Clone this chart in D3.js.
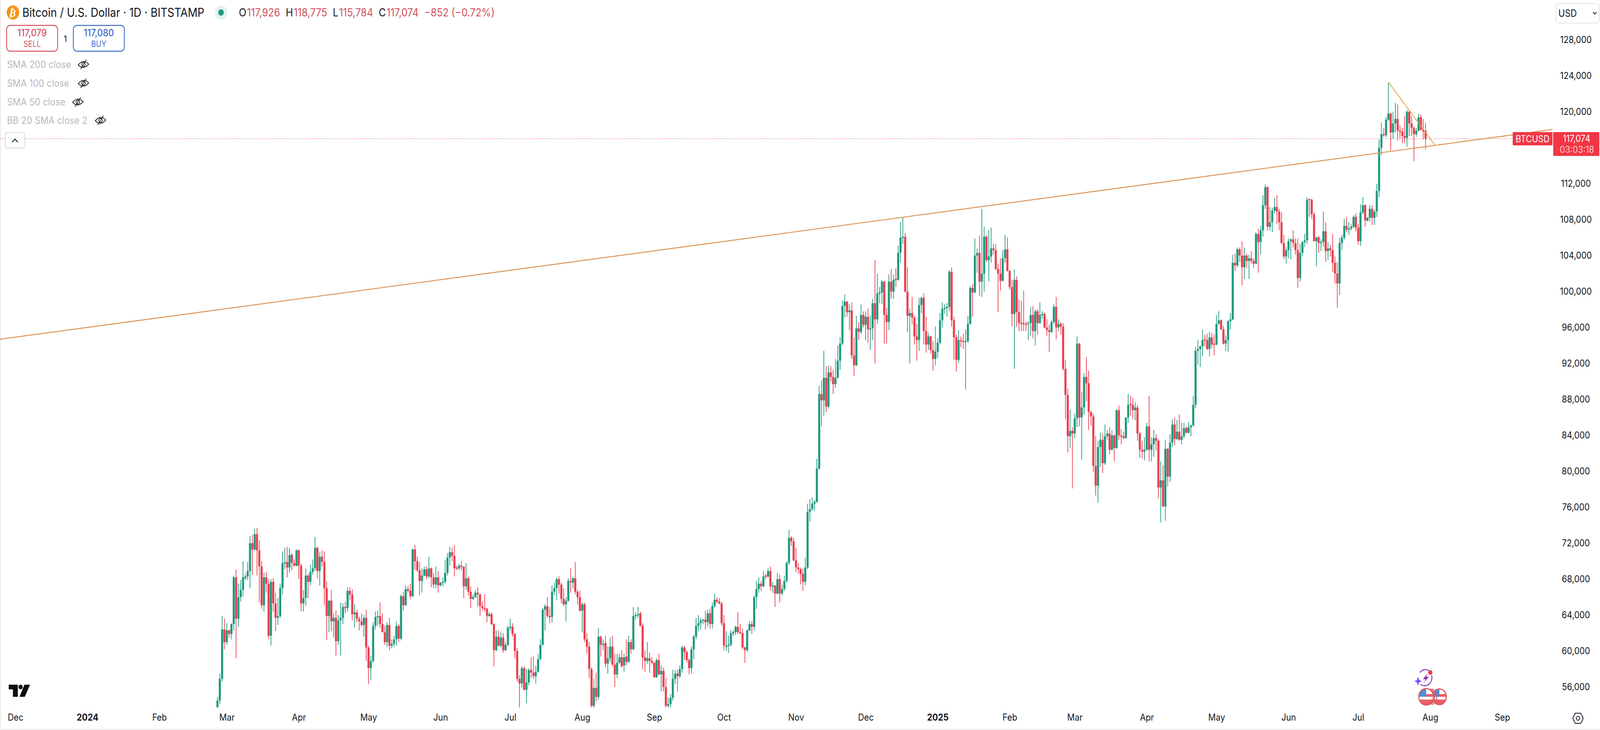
<!DOCTYPE html>
<html>
<head>
<meta charset="utf-8">
<script src="https://cdn.jsdelivr.net/npm/d3@7"></script>
<style>
  html, body { margin: 0; padding: 0; background: #fff; width: 100%; height: 100%; overflow: hidden; }
  svg { display: block; width: 100vw; height: 100vh; font-family: Inter, "Noto Sans", sans-serif; }
  text { fill: #131722; }
</style>
</head>
<body>
<main></main>
<script>
// daily candles, thousands of USD, first candle is 26 Feb 2024
const firstDay = new Date(Date.UTC(2024, 1, 26));

const opens = [
  51.7,54.5,56.9,62.4,61.0,62.3,61.9,63.0,68.2,63.6,
  66.0,66.8,68.1,68.3,68.9,72.0,71.3,73.0,71.2,69.4,
  65.1,68.2,67.5,61.7,67.7,65.3,63.7,63.9,67.0,69.8,
  69.9,69.3,70.7,69.8,69.5,71.2,69.5,65.3,65.9,68.4,
  67.7,68.8,69.2,71.5,68.9,70.5,69.9,67.0,63.9,65.6,
  63.3,63.7,61.1,63.4,63.7,64.9,64.8,66.7,66.3,64.1,
  64.3,63.6,63.3,62.9,63.7,60.4,58.1,58.9,62.8,63.8,
  63.9,63.0,62.1,61.0,62.9,60.6,60.8,61.3,62.8,61.4,
  66.1,65.1,66.9,66.7,66.1,71.3,70.0,69.0,67.8,68.4,
  69.1,68.3,69.2,68.2,67.4,68.2,67.3,67.6,67.7,68.7,
  70.4,71.0,70.6,69.3,69.2,69.5,69.4,67.2,68.1,66.6,
  65.8,66.0,66.5,66.3,65.0,64.8,64.7,63.9,64.1,63.0,
  60.1,61.6,60.6,61.5,60.1,60.7,62.6,62.7,61.9,60.0,
  56.9,56.4,58.1,55.7,56.5,57.9,57.6,57.2,57.7,59.1,
  60.7,64.6,65.0,63.9,63.8,66.6,67.0,68.0,67.4,65.8,
  65.2,65.6,67.8,67.6,68.1,66.6,66.0,64.5,65.2,61.3,
  60.5,58.0,53.9,55.9,54.9,61.6,60.7,60.9,58.6,59.2,
  60.5,58.5,57.4,58.7,59.3,58.4,59.4,58.8,61.0,60.2,
  63.9,64.0,64.2,62.8,59.3,58.9,59.2,58.9,58.7,57.1,
  59.0,57.4,57.8,56.0,53.9,54.1,54.8,56.9,57.5,57.2,
  58.0,60.4,59.9,59.0,58.1,60.2,61.6,62.8,63.1,63.4,
  63.5,63.2,64.2,63.0,65.0,65.7,65.5,65.3,63.1,60.5,
  60.6,60.7,62.0,62.1,62.7,62.1,62.0,60.4,60.1,62.3,
  63.0,62.7,66.0,66.9,67.5,67.2,68.4,68.3,68.9,67.2,
  67.3,66.4,68.0,66.4,66.9,67.8,69.8,72.6,72.2,70.1,
  69.3,69.1,68.6,67.7,69.3,75.5,75.8,76.4,76.6,80.3,
  88.6,87.9,90.4,87.2,91.0,90.5,89.7,90.4,92.3,94.2,
  98.4,98.9,97.7,97.9,92.9,91.8,95.9,95.5,97.4,96.3,
  97.2,95.8,95.9,98.7,96.9,99.8,99.9,101.1,97.4,96.6,
  101.1,100.0,101.4,101.3,104.3,106.0,106.1,100.0,97.3,97.6,
  97.1,95.0,94.6,98.5,99.3,95.6,94.1,95.0,93.5,92.5,
  93.3,94.3,96.8,98.1,98.2,98.3,102.2,96.8,94.9,92.4,
  94.6,94.5,94.4,94.5,96.4,100.4,99.9,104.0,104.3,101.1,
  102.0,106.1,103.5,103.9,104.8,104.6,102.5,102.0,101.2,103.7,
  104.7,102.3,100.5,97.5,101.3,97.7,96.5,96.5,96.4,96.4,
  96.5,97.4,95.6,97.8,96.5,97.4,97.5,96.0,95.7,95.5,
  96.6,98.3,96.0,96.4,96.1,91.4,88.5,83.9,84.5,84.2,
  85.9,94.2,86.0,87.1,90.5,89.8,86.6,86.1,80.6,78.4,
  82.7,83.5,80.9,83.9,84.2,82.4,84.0,82.6,86.8,84.0,
  83.9,83.7,86.0,87.5,87.4,86.8,87.1,84.2,82.4,82.2,
  82.4,85.0,82.4,83.0,83.7,83.4,78.2,79.0,76.1,82.5,
  79.4,83.2,85.2,83.6,84.4,83.5,83.9,84.8,84.3,84.9,
  85.1,87.4,93.4,93.6,93.9,94.7,94.6,93.6,94.9,94.2,
  94.1,96.4,96.8,95.8,94.2,94.6,96.7,96.9,103.2,102.9,
  104.7,104.0,102.7,104.0,103.4,103.7,103.4,103.1,106.4,105.5,
  106.8,109.6,111.6,107.2,107.7,109.0,109.4,108.9,107.7,105.4,
  103.9,104.6,105.6,105.8,105.4,104.6,101.5,104.3,105.5,105.7,
  110.3,110.2,108.6,105.6,106.0,105.4,105.5,106.7,104.5,104.8,
  104.6,103.2,102.0,100.9,105.4,106.0,107.3,106.9,107.0,107.2,
  108.3,107.1,105.6,108.8,109.6,107.9,108.2,109.2,108.2,108.9,
  111.2,116.0,117.5,117.4,119.1,119.8,117.7,118.7,119.2,117.9,
  117.8,117.3,117.1,120.0,118.7,118.2,117.5,117.9,119.4,118.0,117.9
];

const highs = [
  54.9,57.5,63.9,63.6,63.1,62.4,63.1,68.4,69.1,67.5,
  67.9,70.0,68.6,69.9,72.8,72.9,73.6,73.7,72.3,70.0,
  68.7,68.8,68.0,68.0,68.1,66.5,65.9,67.5,71.1,71.5,
  71.6,71.5,70.9,70.2,71.3,71.3,69.7,66.8,69.2,68.6,
  69.6,70.2,72.7,71.6,71.0,71.2,71.1,67.8,65.7,66.8,
  64.2,64.5,64.0,65.4,65.3,65.5,67.1,67.1,66.9,65.2,
  64.6,63.8,64.2,64.0,64.6,60.6,59.5,63.2,64.4,64.5,
  65.4,64.2,62.8,63.2,63.7,61.3,61.7,63.3,63.0,66.3,
  66.6,67.3,67.2,67.5,71.4,71.8,70.5,69.9,69.2,69.4,
  69.4,70.5,69.3,68.7,69.4,68.9,67.7,68.2,70.1,70.9,
  71.6,71.5,71.8,69.5,69.7,70.0,69.4,69.8,68.3,67.2,
  66.3,66.8,67.1,66.4,65.5,66.3,64.8,64.3,64.3,63.1,
  62.3,62.3,62.1,62.0,61.0,62.8,63.6,63.1,62.0,60.3,
  57.3,58.3,58.3,58.0,58.1,59.3,59.4,58.4,59.7,61.3,
  64.8,65.2,66.0,64.9,67.3,67.6,68.2,68.3,67.6,67.0,
  66.0,68.1,69.2,68.2,69.9,66.8,66.7,65.4,65.4,62.0,
  61.0,58.2,56.9,57.6,62.6,61.7,61.3,61.7,60.5,61.5,
  61.7,59.7,59.7,59.7,60.1,59.7,61.3,61.7,61.3,64.9,
  64.3,64.9,64.4,63.1,60.1,61.0,59.8,59.3,58.8,59.2,
  59.7,58.4,58.2,57.0,54.8,55.2,57.9,57.9,57.9,58.4,
  60.6,60.6,60.1,59.2,60.5,61.8,63.7,64.0,63.7,63.6,
  64.5,64.6,64.7,65.4,66.4,66.0,65.9,65.5,64.0,62.2,
  61.7,62.3,62.3,62.8,64.3,63.0,62.5,60.5,62.4,63.3,
  63.3,66.2,67.8,68.2,67.8,68.9,68.6,69.2,69.4,67.7,
  67.3,68.7,68.5,67.4,68.4,70.0,73.5,72.8,72.6,71.5,
  69.8,69.3,69.2,70.4,76.4,76.9,77.1,76.8,81.4,89.5,
  90.1,93.4,91.7,91.8,91.7,91.3,92.5,94.0,94.9,99.0,
  99.7,98.9,98.6,98.8,94.9,97.3,96.6,98.6,97.8,97.8,
  98.1,97.3,99.2,103.5,102.0,100.5,101.3,101.2,98.2,101.9,
  102.5,101.9,102.6,105.1,107.7,108.3,106.5,102.7,98.1,99.4,
  97.3,96.4,99.3,99.4,99.8,97.2,95.4,95.1,94.5,96.1,
  94.8,97.6,98.8,98.6,98.7,102.4,102.7,97.2,95.2,95.7,
  95.0,95.3,95.8,97.3,100.6,100.8,105.9,104.8,106.2,109.2,
  107.2,106.3,106.8,107.1,105.3,105.3,103.1,103.7,104.6,106.3,
  106.0,102.4,101.3,102.5,101.7,99.1,99.0,100.1,96.7,96.7,
  98.3,98.4,98.0,98.0,98.8,97.8,97.7,96.9,96.3,96.8,
  98.6,99.4,96.9,96.6,96.5,92.4,89.2,86.9,84.9,86.4,
  95.0,94.3,88.8,90.9,92.7,91.2,86.7,86.4,83.9,83.4,
  84.3,84.2,85.2,84.6,84.9,84.6,84.1,86.9,87.3,84.7,
  84.4,86.0,88.6,88.4,88.2,87.7,87.4,84.4,83.4,83.8,
  85.4,88.4,83.8,84.6,84.1,83.6,81.1,80.7,83.5,82.6,
  84.1,85.8,86.0,85.7,86.3,85.4,85.4,85.0,85.5,85.2,
  88.4,93.8,94.6,94.0,95.8,95.2,95.3,95.5,95.4,95.2,
  97.4,97.8,96.9,96.2,95.1,96.8,97.6,104.1,104.2,104.9,
  104.9,105.6,104.9,104.2,104.1,104.5,103.7,106.6,107.0,107.3,
  110.7,111.9,111.7,109.4,109.3,110.4,110.7,109.2,108.8,106.3,
  104.9,105.9,105.9,106.8,105.9,105.9,105.3,105.6,106.4,110.5,
  110.3,110.3,108.8,106.1,106.2,105.8,108.9,107.7,105.5,105.2,
  106.4,103.9,103.3,106.0,106.3,108.1,108.3,107.7,107.5,108.5,
  108.7,107.5,109.7,110.5,109.7,108.3,109.6,109.6,109.1,112.0,
  116.9,118.8,118.2,119.4,123.2,119.9,120.0,121.0,120.8,118.5,
  118.2,119.5,120.2,120.1,119.5,118.4,118.2,119.8,119.7,119.2,118.8
];

const lows = [
  50.9,54.1,56.6,60.2,60.7,61.5,61.3,62.3,59.2,62.7,
  65.5,66.1,67.9,67.9,67.0,68.5,71.2,68.4,65.4,64.7,
  64.4,66.5,61.3,60.6,64.4,62.2,62.9,63.7,66.3,69.1,
  68.2,68.7,69.0,69.4,69.4,68.0,64.4,64.4,65.0,65.9,
  67.3,68.5,68.9,68.1,67.3,69.4,65.1,61.2,62.1,62.2,
  61.5,59.5,60.7,59.5,63.0,64.2,64.4,65.7,63.4,62.6,
  63.2,62.3,62.7,61.6,58.9,56.3,56.8,58.7,62.4,62.8,
  62.6,62.1,60.7,60.5,60.1,60.3,60.5,60.6,61.0,61.2,
  64.5,65.0,66.5,65.8,66.0,69.0,68.8,66.2,66.5,68.3,
  68.0,68.1,67.1,67.0,67.0,66.5,67.2,67.2,67.5,68.4,
  69.5,70.0,68.3,69.0,69.0,69.0,65.9,66.8,66.2,64.8,
  65.7,65.9,65.0,63.9,64.5,64.4,63.2,63.8,62.9,58.3,
  60.0,60.5,60.4,59.8,60.0,60.5,62.3,61.6,59.2,56.6,
  53.5,55.9,55.6,54.2,56.2,57.0,56.9,56.4,57.6,59.0,
  60.6,62.3,63.7,63.1,63.2,66.2,65.7,66.4,65.3,65.0,
  63.3,65.5,66.5,67.0,66.3,65.2,64.4,62.1,61.0,59.7,
  57.0,49.0,53.5,54.4,54.6,59.4,60.1,58.2,57.5,58.8,
  58.3,56.0,57.0,58.6,58.2,57.7,58.4,58.7,59.7,60.1,
  63.5,63.7,62.7,58.0,57.7,58.6,57.6,58.5,57.0,57.0,
  57.3,55.5,55.5,53.0,53.5,53.5,54.5,56.3,55.5,57.0,
  57.6,59.0,58.7,57.4,57.5,59.1,61.3,62.2,62.4,63.0,
  62.4,62.7,62.5,62.5,64.8,65.3,65.2,62.8,60.1,60.0,
  59.8,60.5,61.7,61.8,61.9,61.9,60.2,58.7,59.9,62.2,
  61.9,62.3,64.7,66.5,66.7,67.1,68.0,68.2,66.7,66.5,
  64.9,66.3,65.4,66.2,66.7,67.6,69.6,71.7,70.0,68.8,
  68.6,67.4,66.7,67.3,69.1,74.4,75.6,75.6,76.5,80.2,
  85.0,86.2,86.6,87.0,90.0,88.6,89.3,90.3,91.3,94.0,
  97.1,97.2,95.7,92.5,90.6,91.7,94.6,95.3,96.0,94.6,
  94.3,93.5,94.6,92.0,96.4,98.7,98.6,94.2,94.2,95.7,
  99.2,99.2,100.5,101.2,103.2,105.3,99.9,95.5,92.0,96.3,
  94.1,92.3,93.4,97.6,94.1,93.2,93.5,93.1,91.2,91.8,
  92.6,94.1,96.0,97.5,97.2,97.8,96.1,92.4,91.1,92.1,
  93.8,93.6,89.1,94.3,96.3,97.2,99.8,102.1,99.5,99.4,
  100.0,103.3,101.1,103.2,104.1,102.4,97.7,100.1,101.1,103.2,
  102.2,100.2,96.1,91.4,96.1,95.6,95.6,95.6,95.6,94.6,
  95.1,94.8,94.0,95.2,96.4,97.0,95.9,95.1,93.3,95.4,
  96.4,94.7,95.6,95.2,91.2,85.8,82.1,82.6,78.1,83.7,
  84.9,85.0,81.3,86.3,87.8,84.6,85.1,79.9,77.3,76.5,
  80.5,79.8,80.7,83.5,81.9,82.3,81.1,82.5,83.5,83.0,
  83.6,83.6,85.4,86.2,85.8,85.7,83.4,81.5,81.4,81.2,
  82.3,81.1,81.1,81.6,82.3,77.0,74.3,76.0,74.5,78.3,
  78.8,82.7,82.9,83.5,83.4,83.0,83.7,84.2,84.2,83.9,
  85.0,87.0,91.9,91.6,92.8,93.9,93.5,92.8,93.7,92.9,
  94.0,96.3,95.7,94.1,93.4,93.3,95.8,96.8,102.3,102.7,
  103.3,100.7,101.4,102.6,101.4,103.1,102.6,103.0,102.1,104.1,
  106.1,109.2,106.8,106.8,106.6,108.7,107.5,106.8,105.3,103.6,
  103.1,103.7,103.6,104.9,104.1,100.4,101.1,103.9,105.0,105.3,
  108.3,108.1,105.6,102.8,104.3,104.5,105.0,103.3,103.5,103.9,
  102.2,100.9,98.2,99.6,104.6,105.8,106.6,106.3,106.8,107.1,
  106.7,105.2,105.1,108.6,107.2,107.8,107.8,107.4,107.4,108.3,
  110.5,115.2,117.2,117.2,119.0,115.7,117.0,117.7,116.8,117.0,
  116.5,116.5,116.1,117.3,117.3,114.5,117.2,117.8,117.9,116.9,115.8
];

const closes = [
  54.5,56.9,62.4,61.0,62.3,61.9,63.0,68.2,63.6,66.0,
  66.8,68.2,68.3,68.9,72.0,71.3,73.0,71.2,69.4,65.1,
  68.2,67.5,61.7,67.7,65.3,63.7,63.9,67.0,69.8,69.9,
  69.3,70.7,69.8,69.5,71.2,69.5,65.3,65.9,68.4,67.7,
  68.8,69.2,71.5,68.9,70.5,69.9,67.0,63.9,65.6,63.3,
  63.7,61.1,63.4,63.7,64.9,64.8,66.7,66.3,64.1,64.3,
  63.6,63.3,62.9,63.7,60.4,58.1,58.9,62.8,63.8,63.9,
  63.0,62.1,61.0,62.9,60.6,60.8,61.3,62.8,61.4,66.1,
  65.1,66.9,66.7,66.1,71.3,70.0,69.0,67.8,68.4,69.1,
  68.3,69.2,68.2,67.4,68.2,67.3,67.6,67.7,68.7,70.4,
  71.0,70.6,69.2,69.2,69.5,69.4,67.2,68.1,66.6,65.8,
  66.0,66.5,66.3,65.0,64.8,64.7,63.9,64.1,63.0,60.1,
  61.6,60.6,61.5,60.1,60.7,62.6,62.7,61.9,60.0,56.9,
  56.4,58.1,55.7,56.5,57.9,57.6,57.2,57.7,59.1,60.7,
  64.6,65.0,63.9,63.8,66.6,67.0,68.0,67.4,65.8,65.2,
  65.6,67.8,67.7,68.1,66.6,66.0,64.5,65.2,61.3,60.5,
  58.0,53.9,55.9,54.9,61.6,60.7,60.8,58.6,59.2,60.5,
  58.5,57.4,58.7,59.3,58.3,59.3,58.8,61.0,60.2,63.9,
  64.0,64.1,62.8,59.3,58.9,59.2,58.9,58.7,57.1,59.0,
  57.4,57.8,56.0,53.9,54.1,54.8,56.9,57.5,57.2,58.0,
  60.4,59.9,59.0,58.1,60.2,61.6,62.8,63.1,63.4,63.5,
  63.2,64.2,63.0,65.0,65.7,65.5,65.3,63.1,60.6,60.6,
  60.7,62.0,62.1,62.7,62.1,62.0,60.4,60.1,62.3,63.0,
  62.7,66.0,66.9,67.5,67.2,68.3,68.3,68.9,67.2,67.3,
  66.4,68.0,66.4,66.9,67.8,69.8,72.6,72.2,70.1,69.3,
  69.1,68.6,67.7,69.3,75.5,75.8,76.4,76.6,80.3,88.6,
  87.9,90.4,87.2,91.0,90.5,89.7,90.4,92.3,94.2,98.4,
  98.9,97.7,97.9,92.9,91.8,95.9,95.5,97.4,96.3,97.2,
  95.8,95.9,98.7,96.9,99.8,99.9,101.1,97.4,96.6,101.1,
  100.0,101.3,101.3,104.3,106.0,106.1,100.0,97.3,97.6,97.1,
  95.0,94.6,98.5,99.3,95.6,94.1,95.0,93.5,92.5,93.3,
  94.3,96.8,98.1,98.2,98.3,102.2,96.8,94.9,92.4,94.6,
  94.5,94.4,94.5,96.4,100.4,99.9,104.0,104.3,101.1,102.0,
  106.1,103.5,103.9,104.8,104.6,102.5,102.0,101.2,103.7,104.7,
  102.3,100.5,97.5,101.3,97.7,96.5,96.4,96.4,96.3,96.5,
  97.4,95.6,97.8,96.5,97.4,97.5,96.0,95.7,95.5,96.6,
  98.3,96.0,96.4,96.1,91.4,88.5,83.9,84.5,84.2,85.9,
  94.2,86.0,87.1,90.5,89.8,86.6,86.1,80.6,78.4,82.7,
  83.5,80.9,83.9,84.2,82.4,84.0,82.6,86.8,84.0,83.9,
  83.7,86.0,87.4,87.4,86.8,87.1,84.2,82.4,82.2,82.4,
  85.0,82.4,83.0,83.7,83.4,78.2,79.0,76.1,82.5,79.4,
  83.2,85.2,83.6,84.4,83.5,83.9,84.8,84.3,84.9,85.1,
  87.4,93.4,93.6,93.9,94.6,94.6,93.6,94.9,94.1,94.1,
  96.4,96.8,95.8,94.2,94.6,96.7,96.9,103.2,102.9,104.7,
  104.0,102.7,104.0,103.4,103.7,103.4,103.1,106.4,105.5,106.8,
  109.6,111.6,107.2,107.7,109.0,109.4,108.9,107.7,105.4,103.9,
  104.6,105.6,105.8,105.4,104.6,101.5,104.3,105.5,105.7,110.2,
  110.2,108.6,105.6,106.0,105.4,105.5,106.7,104.5,104.8,104.6,
  103.2,102.0,100.9,105.4,106.0,107.3,106.9,107.0,107.2,108.3,
  107.1,105.6,108.8,109.6,107.9,108.2,109.2,108.2,108.9,111.2,
  116.0,117.5,117.4,119.1,119.8,117.7,118.7,119.2,117.9,117.8,
  117.3,117.1,120.0,118.7,118.2,117.5,117.9,119.4,118.0,117.8,117.0
];

// axes
const priceTicks = [128,124,120,112,108,104,100,96,92,88,84,80,76,72,68,64,60,56];
const timeTickDates = ["2023-12-01","2024-01-01","2024-02-01","2024-03-01","2024-04-01","2024-05-01","2024-06-01","2024-07-01","2024-08-01","2024-09-01","2024-10-01","2024-11-01","2024-12-01","2025-01-01","2025-02-01","2025-03-01","2025-04-01","2025-05-01","2025-06-01","2025-07-01","2025-08-01","2025-09-01"];
const timeTickLabels = ["Dec","2024","Feb","Mar","Apr","May","Jun","Jul","Aug","Sep","Oct","Nov","Dec","2025","Feb","Mar","Apr","May","Jun","Jul","Aug","Sep"];

// drawn trend lines, date then price
const longTrendDates = ["2023-11-24","2025-09-23"];
const longTrendPrices = [94.68,118.04];
const shortTrendDates = ["2025-07-14","2025-08-03"];
const shortTrendPrices = [123.3,116.3];
const lastPriceLevel = 117.0;

const legendNames = ["SMA 200 close","SMA 100 close","SMA 50 close","BB 20 SMA close 2"];
const ohlcNames = ["O","H","L","C"];
const ohlcValues = ["117,926","118,775","115,784","117,074"];

const w = 4582;
const h = 1868;
const red = "#ea3f4f";
const green = "#1f9a80";

// the window can come out narrower than asked, so fit the drawing to it
const svg = d3.select("main").append("svg")
  .attr("viewBox", `0 0 ${w} ${h}`)
  .attr("preserveAspectRatio", "none");

const xScale = d3.scaleUtc()
  .domain([new Date("2023-12-01"), new Date("2025-09-01")])
  .range([44, 4302]);
const yScale = d3.scaleLinear().domain([56, 128]).range([1758, 102]);

svg.append("defs").append("clipPath").attr("id", "plot")
  .append("rect").attr("x", 0).attr("y", 0).attr("width", 4446).attr("height", 1810);

// frame edges
svg.append("rect").attr("x", 0).attr("y", 0).attr("width", 3).attr("height", h).attr("fill", "#eeeeee");
svg.append("rect").attr("x", 0).attr("y", 1865).attr("width", w).attr("height", 3).attr("fill", "#eeeeee");

const plot = svg.append("g").attr("clip-path", "url(#plot)");

// dotted last price line sits under the candles
plot.append("line")
  .attr("x1", 0).attr("x2", 4332)
  .attr("y1", yScale(lastPriceLevel)).attr("y2", yScale(lastPriceLevel))
  .attr("stroke", "#c8505c").attr("stroke-width", 1.6).attr("stroke-dasharray", "2 4");

const candles = opens.map((o, i) => ({
  date: d3.utcDay.offset(firstDay, i),
  o: o, h: highs[i], l: lows[i], c: closes[i]
}));
const colorOf = (d) => d.c >= d.o ? green : red;

plot.selectAll("line.wick")
  .data(candles)
  .join("line")
  .attr("class", "wick")
  .attr("x1", (d) => xScale(d.date)).attr("x2", (d) => xScale(d.date))
  .attr("y1", (d) => yScale(d.h)).attr("y2", (d) => yScale(d.l))
  .attr("stroke", colorOf).attr("stroke-width", 2);

plot.selectAll("rect.body")
  .data(candles)
  .join("rect")
  .attr("class", "body")
  .attr("x", (d) => xScale(d.date) - 3)
  .attr("width", 6)
  .attr("y", (d) => yScale(Math.max(d.o, d.c)))
  .attr("height", (d) => Math.max(3, Math.abs(yScale(d.o) - yScale(d.c))))
  .attr("fill", colorOf);

const trendLine = d3.line()
  .x((d) => xScale(new Date(d[0])))
  .y((d) => yScale(d[1]));

plot.append("path")
  .datum(d3.zip(longTrendDates, longTrendPrices))
  .attr("d", trendLine)
  .attr("fill", "none").attr("stroke", "#dc9152").attr("stroke-width", 2.4);

plot.append("path")
  .datum(d3.zip(shortTrendDates, shortTrendPrices))
  .attr("d", trendLine)
  .attr("fill", "none").attr("stroke", "#e3a04a").attr("stroke-width", 2.2);

// price axis
const yAxis = d3.axisRight(yScale)
  .tickValues(priceTicks)
  .tickSize(0)
  .tickFormat((d) => d3.format(",")(d * 1000));

svg.append("g")
  .attr("transform", "translate(4513,0)")
  .call(yAxis)
  .call((g) => g.select(".domain").remove())
  .selectAll("text")
  .attr("x", 0)
  .attr("text-anchor", "middle")
  .style("font-family", "Inter")
  .style("font-size", "24px")
  .style("fill", "#131722");

// time axis
const xAxis = d3.axisBottom(xScale)
  .tickValues(timeTickDates.map((d) => new Date(d)))
  .tickSize(0)
  .tickFormat((d, i) => timeTickLabels[i]);

svg.append("g")
  .attr("transform", "translate(0,1827)")
  .call(xAxis)
  .call((g) => g.select(".domain").remove())
  .selectAll("text")
  .attr("y", 0)
  .attr("dy", "0.71em")
  .style("font-family", "Inter")
  .style("font-size", "24px")
  .style("font-weight", (d, i) => /^\d/.test(timeTickLabels[i]) ? 700 : 400)
  .style("fill", "#131722");

// header
svg.append("circle").attr("cx", 37).attr("cy", 32).attr("r", 18).attr("fill", "#f7931a");
svg.append("text").attr("x", 37).attr("y", 42).attr("text-anchor", "middle")
  .attr("transform", "rotate(12 37 32)")
  .style("font-family", "DejaVu Sans").style("font-size", "27px").style("font-weight", 700)
  .style("fill", "#ffffff").text("\u20BF");

svg.append("text").attr("x", 64).attr("y", 43)
  .style("font-size", "30.8px").text("Bitcoin / U.S. Dollar · 1D · BITSTAMP");

svg.append("circle").attr("cx", 633).attr("cy", 32).attr("r", 18).attr("fill", "#e2f3ef");
svg.append("circle").attr("cx", 633).attr("cy", 32).attr("r", 8).attr("fill", "#1f9a80");

const ohlc = svg.append("text").attr("x", 684).attr("y", 42).style("font-size", "28px");
ohlcNames.forEach((n, i) => {
  ohlc.append("tspan").attr("dx", i ? 16 : 0).text(n);
  ohlc.append("tspan").attr("dx", 2).style("fill", "#d0505c").text(ohlcValues[i]);
});
ohlc.append("tspan").attr("dx", 16).style("fill", "#d0505c").text("\u2212852 (\u22120.72%)");

// sell and buy boxes
const tradeBox = (x, color, price, word) => {
  svg.append("rect").attr("x", x).attr("y", 65).attr("width", 146).attr("height", 66).attr("rx", 10)
    .attr("fill", "#fff").attr("stroke", color).attr("stroke-width", 2.4);
  svg.append("text").attr("x", x + 73).attr("y", 93).attr("text-anchor", "middle")
    .style("font-size", "25px").style("font-weight", 500).style("fill", color).text(price);
  svg.append("text").attr("x", x + 73).attr("y", 120).attr("text-anchor", "middle")
    .style("font-size", "21px").style("fill", color).text(word);
};
tradeBox(19, "#d4505c", "117,079", "SELL");
tradeBox(210, "#3d6bc9", "117,080", "BUY");
svg.append("text").attr("x", 187).attr("y", 107).attr("text-anchor", "middle").style("font-size", "22px").text("1");

// hidden indicators
const legendRowY = [165, 213, 261, 308];
const legendIconX = [239, 239, 223, 288];
legendNames.forEach((name, i) => {
  svg.append("text").attr("x", 20).attr("y", legendRowY[i] + 9)
    .style("font-size", "25.5px").style("fill", "#b7b9bf").text(name);
  const icon = svg.append("g").attr("transform", `translate(${legendIconX[i]},${legendRowY[i]})`)
    .attr("fill", "none").attr("stroke", "#1c1f26").attr("stroke-width", 2);
  icon.append("path").attr("d", "M-15,1 Q0,-15 15,-1 Q0,15 -15,1 Z");
  icon.append("circle").attr("r", 5);
  icon.append("line").attr("x1", -8).attr("y1", 12).attr("x2", 8).attr("y2", -12);
});

// collapse button
svg.append("rect").attr("x", 15).attr("y", 339).attr("width", 56).attr("height", 40).attr("rx", 5)
  .attr("fill", "#fff").attr("stroke", "#d6d8dd").attr("stroke-width", 2);
svg.append("path").attr("d", "M35,364 L43,356 L51,364").attr("fill", "none").attr("stroke", "#131722").attr("stroke-width", 2.4);

// currency selector
svg.append("rect").attr("x", 4456).attr("y", 9).attr("width", 124).attr("height", 50).attr("rx", 8)
  .attr("fill", "#fff").attr("stroke", "#e2e4ea").attr("stroke-width", 2);
svg.append("text").attr("x", 4463).attr("y", 43).style("font-size", "25px").text("USD");
svg.append("path").attr("d", "M4562,31 L4567,36 L4572,31").attr("fill", "none").attr("stroke", "#131722").attr("stroke-width", 2.2);

// last price labels
svg.append("rect").attr("x", 4332).attr("y", 338).attr("width", 114).attr("height", 34).attr("rx", 2).attr("fill", "#f23645");
svg.append("text").attr("x", 4389).attr("y", 364).attr("text-anchor", "middle")
  .style("font-size", "24px").style("fill", "#ffffff").text("BTCUSD");
svg.append("rect").attr("x", 4448).attr("y", 338).attr("width", 132).attr("height", 61).attr("rx", 2).attr("fill", "#f23645");
svg.append("text").attr("x", 4515).attr("y", 363).attr("text-anchor", "middle")
  .style("font-size", "24px").style("fill", "#ffffff").text("117,074");
svg.append("text").attr("x", 4516).attr("y", 391).attr("text-anchor", "middle")
  .style("font-size", "24px").style("fill", "#ffc9ce").text("03:03:18");

// logo
const logo = svg.append("g").attr("fill", "#0d0d0d");
logo.append("path").attr("d", "M25,1752 H51 V1783 H37 V1764 H25 Z");
logo.append("circle").attr("cx", 59).attr("cy", 1758).attr("r", 6);
logo.append("path").attr("d", "M70,1752 H86 L71,1783 H56 Z");

// settings icon
svg.append("path").attr("d", "M4511,1825 H4527 L4534,1838 L4527,1851 H4511 L4504,1838 Z")
  .attr("fill", "none").attr("stroke", "#131722").attr("stroke-width", 2.2);
svg.append("circle").attr("cx", 4519).attr("cy", 1838).attr("r", 5)
  .attr("fill", "none").attr("stroke", "#131722").attr("stroke-width", 2.2);

// event icons
svg.append("path").attr("d", "M4066,1721 A21,21 0 0 1 4092,1716 M4100,1728 A21,21 0 0 1 4068,1751")
  .attr("fill", "none").attr("stroke", "#8a3db5").attr("stroke-width", 2.6);
svg.append("path").attr("d", "M4088,1723 L4075,1738 H4083 L4077,1747 L4092,1732 H4084 Z").attr("fill", "#8e2fb0");
svg.append("path").attr("d", "M4061,1731 L4064,1740 L4072,1743 L4064,1746 L4061,1755 L4058,1746 L4050,1743 L4058,1740 Z").attr("fill", "#7c4dff");
svg.append("circle").attr("cx", 4096).attr("cy", 1721).attr("r", 6).attr("fill", "#f23645");

const coin = (id, cx, r) => {
  const clip = svg.select("defs").append("clipPath").attr("id", id);
  clip.append("circle").attr("cx", cx).attr("cy", 1783).attr("r", r);
  const g = svg.append("g");
  g.append("circle").attr("cx", cx).attr("cy", 1783).attr("r", r).attr("fill", "#fff");
  const inner = g.append("g").attr("clip-path", `url(#${id})`);
  inner.append("rect").attr("x", cx - r).attr("y", 1776).attr("width", 2 * r).attr("height", 7).attr("fill", "#e86268");
  inner.append("rect").attr("x", cx - r).attr("y", 1790).attr("width", 2 * r).attr("height", 14).attr("fill", "#e86268");
  inner.append("rect").attr("x", cx - r).attr("y", 1762).attr("width", r).attr("height", 21).attr("fill", "#4a90d9");
  g.append("circle").attr("cx", cx).attr("cy", 1783).attr("r", r).attr("fill", "none").attr("stroke", "#e0565c").attr("stroke-width", 3);
};
coin("coin2", 4122, 20);
coin("coin1", 4084, 21);
svg.append("path").attr("d", "M4094,1763 A21,21 0 0 1 4094,1803 M4100,1763 A21,21 0 0 1 4100,1803")
  .attr("fill", "none").attr("stroke", "#e0565c").attr("stroke-width", 2.5);
</script>
</body>
</html>
